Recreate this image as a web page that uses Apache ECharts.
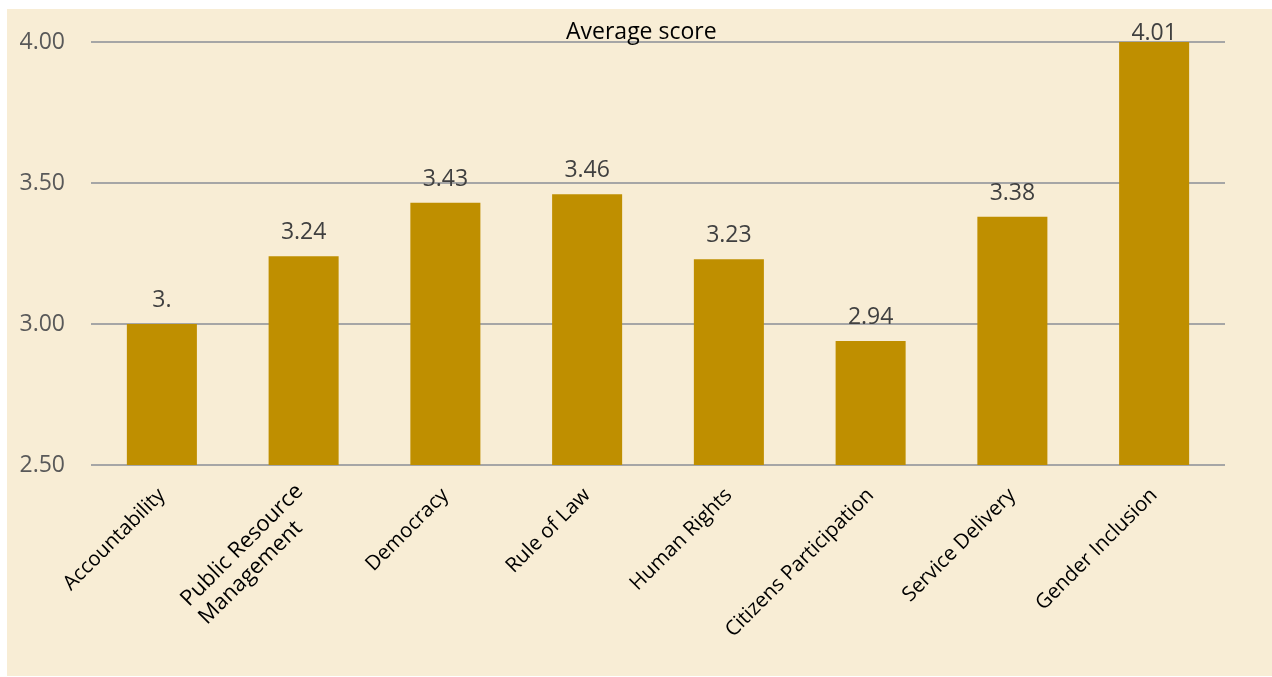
<!DOCTYPE html>
<html>
<head>
<meta charset="utf-8">
<style>
  html, body { margin: 0; padding: 0; background: #ffffff; }
  #chart { width: 1272px; height: 677px; }
</style>
<script src="https://cdn.jsdelivr.net/npm/echarts@6/dist/echarts.min.js"></script>
</head>
<body>
<div id="chart"></div>
<script>
// Average score per governance area
const categories = [
  'Accountability',
  'Public Resource\nManagement',
  'Democracy',
  'Rule of Law',
  'Human Rights',
  'Citizens Participation',
  'Service Delivery',
  'Gender Inclusion'
];
const scores = [3.00, 3.24, 3.43, 3.46, 3.23, 2.94, 3.38, 4.01];
const yTicks = [2.5, 3.0, 3.5, 4.0];

// Excel-style "0.##" number format: trailing zeros dropped, decimal point kept
function fmt(v) {
  return v.toFixed(2).replace(/0+$/, '');
}

// wrapped category names get a slight nudge so their block sits like the single-line ones
const categoryItems = categories.map(function (c) {
  if (c.indexOf('\n') >= 0) {
    return { value: c, textStyle: { padding: [14, 0, 0, 0] } };
  }
  return c;
});

const chart = echarts.init(document.getElementById('chart'), null, { renderer: 'canvas' });

const option = {
  animation: false,
  backgroundColor: 'transparent',
  textStyle: { fontFamily: '"Open Sans", sans-serif' },
  graphic: [{
    type: 'rect',
    z: -10,
    silent: true,
    shape: { x: 7, y: 9, width: 1265, height: 667 },
    style: { fill: '#F8EDD5' }
  }],
  title: {
    text: 'Average score',
    left: 561,
    top: 16,
    textStyle: { fontSize: 23, fontWeight: 'normal', color: '#000000', fontFamily: '"Open Sans", sans-serif' }
  },
  grid: { left: 91, right: 47, top: 42, bottom: 212, containLabel: false },
  xAxis: {
    type: 'category',
    data: categoryItems,
    axisLine: { show: false },
    axisTick: { show: false },
    axisLabel: {
      rotate: 45,
      interval: 0,
      margin: 27,
      fontSize: 20.5,
      color: '#000000',
      fontFamily: '"Open Sans", sans-serif',
      formatter: function (val) {
        // wrapped category names: lines share a common start
        if (val.indexOf('\n') >= 0) {
          return val.split('\n').map(function (s) { return '{big|' + s + '}'; }).join('\n');
        }
        return val;
      },
      rich: {
        big: { fontSize: 22, lineHeight: 25.5, align: 'left', color: '#000000', fontFamily: '"Open Sans", sans-serif' }
      }
    }
  },
  yAxis: {
    type: 'value',
    min: yTicks[0],
    max: yTicks[yTicks.length - 1],
    interval: 0.5,
    axisLine: { show: false },
    axisTick: { show: false },
    axisLabel: {
      margin: 26,
      fontSize: 23,
      color: '#595959',
      fontFamily: '"Open Sans", sans-serif',
      formatter: function (v) { return v.toFixed(2); }
    },
    splitLine: { lineStyle: { color: '#A6A6A6', width: 2 } }
  },
  series: [{
    type: 'bar',
    data: scores.map(function (v) {
      const item = { value: v };
      if (v > yTicks[yTicks.length - 1]) {
        item.label = { distance: -3 };
      }
      return item;
    }),
    barWidth: '49.4%',
    clip: true,
    z: 1,
    itemStyle: { color: '#BF8F00' },
    label: {
      show: true,
      position: 'top',
      distance: 12,
      fontSize: 23,
      color: '#404040',
      fontFamily: '"Open Sans", sans-serif',
      formatter: function (p) { return fmt(p.value); }
    }
  }]
};

chart.setOption(option);
</script>
</body>
</html>
